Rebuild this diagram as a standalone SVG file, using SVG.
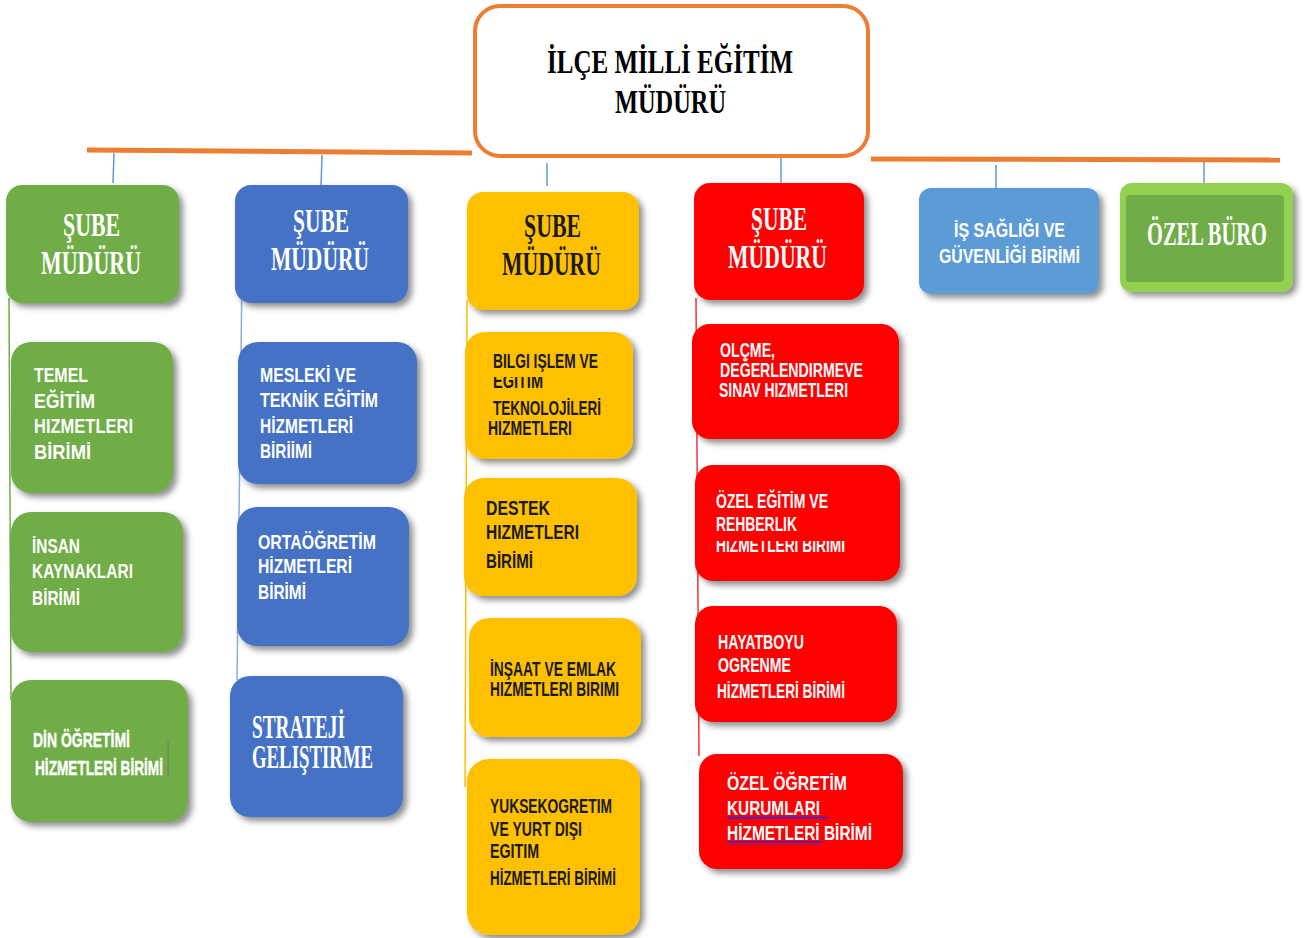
<svg xmlns="http://www.w3.org/2000/svg" width="1311" height="938" viewBox="0 0 1311 938">
<style>
.bx{filter:url(#sh)}
.hd{font-family:"Liberation Serif","Times New Roman",serif;font-weight:bold;font-size:33px}
.sb{font-family:"Liberation Sans",Arial,sans-serif;font-weight:bold;font-size:20px}
.w{fill:#ffffff}
.k{fill:#1a1a1a}
.cn{stroke:#5B9BD5;stroke-width:1.5;fill:none}
.or{stroke:#ED7D31;stroke-width:5;fill:none}
</style>
<defs>
<filter id="sh" x="-10%" y="-10%" width="130%" height="130%">
<feDropShadow dx="4" dy="4" stdDeviation="3" flood-color="#000" flood-opacity="0.45"/>
</filter>
<pattern id="wave" width="4" height="4" patternUnits="userSpaceOnUse">
<path d="M0 3 L2 0.8 L4 3" stroke="#2a2ae0" stroke-width="1.2" fill="none"/>
</pattern>
<clipPath id="c1"><rect x="480" y="377" width="120" height="20"/></clipPath>
<clipPath id="c2"><rect x="710" y="541" width="150" height="20"/></clipPath>
</defs>

<g id="connectors">
<path class="or" d="M87 150 L472 153"/>
<path class="or" d="M871 159 L1280 160"/>
<path class="cn" d="M114 153 L113 183"/>
<path class="cn" d="M322 155 L321 188"/>
<path class="cn" d="M547 163 L547 186"/>
<path class="cn" d="M781 157 L781 183"/>
<path class="cn" d="M996 165 L996 188"/>
<path class="cn" d="M1204 162 L1204 193"/>
<path d="M9 298 L11 700" stroke="#70AD47" stroke-width="1.5"/>
<path d="M242 275 L237 680" stroke="#8FAADC" stroke-width="1.5"/>
<path d="M467 300 L465 787" stroke="#FFC000" stroke-width="1.5"/>
<path d="M696 298 L699 756" stroke="#FF3030" stroke-width="1.5"/>
</g>

<g id="top">
<rect x="475" y="6" width="393" height="150" rx="25" fill="#fff" stroke="#ED7D31" stroke-width="4"/>
<text class="hd" x="547" y="73" font-size="35" textLength="246" lengthAdjust="spacingAndGlyphs" fill="#000">İLÇE MİLLİ EĞİTİM</text>
<text class="hd" x="615" y="113" font-size="35" textLength="111" lengthAdjust="spacingAndGlyphs" fill="#000">MÜDÜRÜ</text>
</g>

<g id="sube1">
<rect class="bx" x="6" y="185" width="173" height="118" rx="16" fill="#70AD47"/>
<text class="hd w" x="63" y="236" textLength="57" lengthAdjust="spacingAndGlyphs">ŞUBE</text>
<text class="hd w" x="41" y="274" textLength="100" lengthAdjust="spacingAndGlyphs">MÜDÜRÜ</text>
</g>
<g id="temel">
<rect class="bx" x="11" y="342" width="162" height="151" rx="20" fill="#70AD47"/>
<text class="sb w" font-size="23" x="34" y="382" textLength="54" lengthAdjust="spacingAndGlyphs">TEMEL</text>
<text class="sb w" font-size="23" x="34" y="408" textLength="61" lengthAdjust="spacingAndGlyphs">EĞİTİM</text>
<text class="sb w" font-size="23" x="34" y="433" textLength="99" lengthAdjust="spacingAndGlyphs">HIZMETLERI</text>
<text class="sb w" font-size="23" x="34" y="459" textLength="57" lengthAdjust="spacingAndGlyphs">BİRİMİ</text>
</g>
<g id="insan">
<rect class="bx" x="11" y="512" width="172" height="140" rx="20" fill="#70AD47"/>
<text class="sb w" x="32" y="553" textLength="48" lengthAdjust="spacingAndGlyphs">İNSAN</text>
<text class="sb w" x="32" y="578" textLength="101" lengthAdjust="spacingAndGlyphs">KAYNAKLARI</text>
<text class="sb w" x="32" y="605" textLength="48" lengthAdjust="spacingAndGlyphs">BİRİMİ</text>
</g>
<g id="din">
<rect class="bx" x="11" y="680" width="177" height="142" rx="20" fill="#70AD47"/>
<text class="sb w" font-weight="normal" stroke="#fff" stroke-width="0.4" font-size="21" x="33" y="747" textLength="97" lengthAdjust="spacingAndGlyphs">DİN ÖĞRETİMİ</text>
<text class="sb w" font-weight="normal" stroke="#fff" stroke-width="0.4" font-size="21" x="35" y="775" textLength="128" lengthAdjust="spacingAndGlyphs">HİZMETLERİ BİRİMİ</text>
<line x1="168" y1="740" x2="168" y2="778" stroke="#777" stroke-width="1"/>
</g>

<g id="sube2">
<rect class="bx" x="235" y="185" width="173" height="118" rx="16" fill="#4472C4"/>
<text class="hd w" x="293" y="232" textLength="56" lengthAdjust="spacingAndGlyphs">ŞUBE</text>
<text class="hd w" x="271" y="270" textLength="98" lengthAdjust="spacingAndGlyphs">MÜDÜRÜ</text>
</g>
<g id="mesleki">
<rect class="bx" x="238" y="342" width="179" height="142" rx="20" fill="#4472C4"/>
<text class="sb w" font-size="21" x="260" y="382" textLength="96" lengthAdjust="spacingAndGlyphs">MESLEKİ VE</text>
<text class="sb w" font-size="21" x="260" y="407" textLength="118" lengthAdjust="spacingAndGlyphs">TEKNİK EĞİTİM</text>
<text class="sb w" font-size="21" x="260" y="433" textLength="93" lengthAdjust="spacingAndGlyphs">HİZMETLERİ</text>
<text class="sb w" font-size="21" x="260" y="458" textLength="52" lengthAdjust="spacingAndGlyphs">BİRİİMİ</text>
</g>
<g id="ortaogretim">
<rect class="bx" x="237" y="507" width="172" height="139" rx="20" fill="#4472C4"/>
<text class="sb w" x="258" y="549" textLength="118" lengthAdjust="spacingAndGlyphs">ORTAÖĞRETİM</text>
<text class="sb w" x="258" y="573" textLength="94" lengthAdjust="spacingAndGlyphs">HİZMETLERİ</text>
<text class="sb w" x="258" y="599" textLength="48" lengthAdjust="spacingAndGlyphs">BİRİMİ</text>
</g>
<g id="strateji">
<rect class="bx" x="230" y="676" width="173" height="141" rx="20" fill="#4472C4"/>
<text class="hd w" font-size="24" x="252" y="738" textLength="93" lengthAdjust="spacingAndGlyphs">STRATEJİ</text>
<text class="hd w" font-size="24" x="252" y="768" textLength="121" lengthAdjust="spacingAndGlyphs">GELIŞTIRME</text>
</g>

<g id="sube3">
<rect class="bx" x="467" y="192" width="172" height="118" rx="16" fill="#FFC000"/>
<text class="hd k" x="524" y="237" textLength="57" lengthAdjust="spacingAndGlyphs">ŞUBE</text>
<text class="hd k" x="502" y="275" textLength="99" lengthAdjust="spacingAndGlyphs">MÜDÜRÜ</text>
</g>
<g id="bilgi">
<rect class="bx" x="465" y="332" width="168" height="127" rx="20" fill="#FFC000"/>
<text class="sb k" x="493" y="368" textLength="105" lengthAdjust="spacingAndGlyphs">BILGI IŞLEM VE</text>
<text class="sb k" x="493" y="388" textLength="50" lengthAdjust="spacingAndGlyphs" clip-path="url(#c1)">EGITIM</text>
<text class="sb k" x="493" y="415" textLength="108" lengthAdjust="spacingAndGlyphs">TEKNOLOJİLERİ</text>
<text class="sb k" x="488" y="435" textLength="84" lengthAdjust="spacingAndGlyphs">HIZMETLERI</text>
</g>
<g id="destek">
<rect class="bx" x="464" y="478" width="173" height="118" rx="20" fill="#FFC000"/>
<text class="sb k" x="486" y="515" textLength="64" lengthAdjust="spacingAndGlyphs">DESTEK</text>
<text class="sb k" x="486" y="539" textLength="93" lengthAdjust="spacingAndGlyphs">HIZMETLERI</text>
<text class="sb k" x="486" y="568" textLength="47" lengthAdjust="spacingAndGlyphs">BİRİMİ</text>
</g>
<g id="insaat">
<rect class="bx" x="469" y="618" width="172" height="119" rx="20" fill="#FFC000"/>
<text class="sb k" x="490" y="676" textLength="126" lengthAdjust="spacingAndGlyphs">İNŞAAT VE EMLAK</text>
<text class="sb k" x="490" y="696" textLength="129" lengthAdjust="spacingAndGlyphs">HIZMETLERI BIRIMI</text>
</g>
<g id="yuksek">
<rect class="bx" x="467" y="759" width="173" height="176" rx="22" fill="#FFC000"/>
<text class="sb k" x="490" y="813" textLength="122" lengthAdjust="spacingAndGlyphs">YUKSEKOGRETIM</text>
<text class="sb k" x="490" y="836" textLength="92" lengthAdjust="spacingAndGlyphs">VE YURT DIŞI</text>
<text class="sb k" x="490" y="858" textLength="49" lengthAdjust="spacingAndGlyphs">EGITIM</text>
<text class="sb k" x="490" y="885" textLength="126" lengthAdjust="spacingAndGlyphs">HİZMETLERİ BİRİMİ</text>
</g>

<g id="sube4">
<rect class="bx" x="694" y="183" width="170" height="117" rx="16" fill="#FF0000"/>
<text class="hd w" x="751" y="230" textLength="56" lengthAdjust="spacingAndGlyphs">ŞUBE</text>
<text class="hd w" x="728" y="268" textLength="99" lengthAdjust="spacingAndGlyphs">MÜDÜRÜ</text>
</g>
<g id="olcme">
<rect class="bx" x="692" y="324" width="207" height="115" rx="18" fill="#FF0000"/>
<text class="sb w" font-size="19" x="720" y="357" textLength="55" lengthAdjust="spacingAndGlyphs">OLÇME,</text>
<text class="sb w" font-size="19" x="720" y="377" textLength="143" lengthAdjust="spacingAndGlyphs">DEĞERLENDIRMEVE</text>
<text class="sb w" font-size="19" x="719" y="397" textLength="129" lengthAdjust="spacingAndGlyphs">SINAV HIZMETLERI</text>
</g>
<g id="ozelegitim">
<rect class="bx" x="695" y="465" width="205" height="116" rx="18" fill="#FF0000"/>
<text class="sb w" font-size="19" x="716" y="508" textLength="112" lengthAdjust="spacingAndGlyphs">ÖZEL EĞİTİM VE</text>
<text class="sb w" font-size="19" x="716" y="531" textLength="81" lengthAdjust="spacingAndGlyphs">REHBERLIK</text>
<text class="sb w" font-size="19" x="716" y="552" textLength="129" lengthAdjust="spacingAndGlyphs" clip-path="url(#c2)">HIZMETLERI BIRIMI</text>
</g>
<g id="hayatboyu">
<rect class="bx" x="695" y="606" width="202" height="116" rx="18" fill="#FF0000"/>
<text class="sb w" font-size="19" x="718" y="649" textLength="86" lengthAdjust="spacingAndGlyphs">HAYATBOYU</text>
<text class="sb w" font-size="19" x="718" y="672" textLength="73" lengthAdjust="spacingAndGlyphs">OGRENME</text>
<text class="sb w" font-size="19" x="717" y="698" textLength="128" lengthAdjust="spacingAndGlyphs">HİZMETLERİ BİRİMİ</text>
</g>
<g id="ozelogretim">
<rect class="bx" x="699" y="754" width="204" height="115" rx="18" fill="#FF0000"/>
<text class="sb w" x="727" y="790" textLength="120" lengthAdjust="spacingAndGlyphs">ÖZEL ÖĞRETİM</text>
<text class="sb w" x="727" y="815" textLength="93" lengthAdjust="spacingAndGlyphs">KURUMLARI</text>
<text class="sb w" x="727" y="840" textLength="145" lengthAdjust="spacingAndGlyphs">HİZMETLERİ BİRİMİ</text>
<rect x="727" y="815" width="100" height="4" fill="url(#wave)"/>
<rect x="727" y="841" width="95" height="4" fill="url(#wave)"/>
</g>

<g id="isg">
<rect class="bx" x="919" y="188" width="180" height="106" rx="12" fill="#5B9BD5"/>
<text class="sb w" x="954" y="237" textLength="111" lengthAdjust="spacingAndGlyphs">İŞ SAĞLIĞI VE</text>
<text class="sb w" x="939" y="263" textLength="141" lengthAdjust="spacingAndGlyphs">GÜVENLİĞİ BİRİMİ</text>
</g>
<g id="ozelburo">
<rect class="bx" x="1120" y="183" width="173" height="109" rx="12" fill="#92D050"/>
<rect x="1126" y="195" width="158" height="87" rx="4" fill="#70AD47"/>
<text class="hd w" font-size="30" transform="translate(1147 245) scale(0.62 1)" x="0" y="0">ÖZEL BÜRO</text>
</g>
</svg>
